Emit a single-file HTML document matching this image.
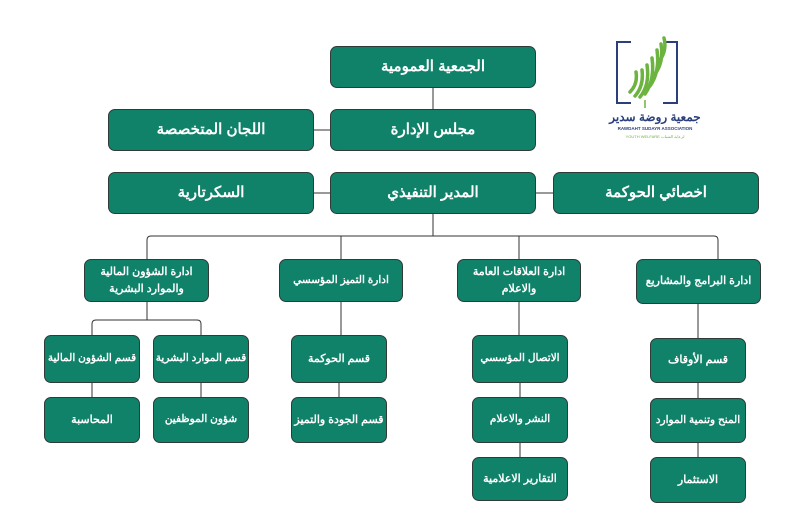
<!DOCTYPE html>
<html><head><meta charset="utf-8"><style>
body{margin:0;width:799px;height:527px;background:#fff;position:relative;overflow:hidden;font-family:"Liberation Sans","Noto Sans CJK SC",sans-serif}
.b{position:absolute;background:#10826a;border:1.5px solid #2f3b36;border-radius:7px;box-sizing:border-box;color:#fff;font-weight:bold;display:flex;align-items:center;justify-content:center;text-align:center;direction:rtl;line-height:1.5}
.l{font-size:15px}.m{font-size:11px}.s{font-size:10.5px}
svg{position:absolute;left:0;top:0}
</style></head><body>
<svg width="799" height="527" stroke="#333" stroke-width="1" fill="none">
<line x1="433" y1="88" x2="433" y2="109"/>
<line x1="314" y1="130" x2="330" y2="130"/>
<line x1="314" y1="193" x2="330" y2="193"/>
<line x1="536" y1="193" x2="553" y2="193"/>
<line x1="433" y1="214" x2="433" y2="236"/>
<path d="M147 259V240q0-4 4-4H714q4 0 4 4V259"/>
<line x1="341" y1="236" x2="341" y2="259"/>
<line x1="519" y1="236" x2="519" y2="259"/>
<line x1="147" y1="302" x2="147" y2="320"/>
<path d="M92 335V324q0-4 4-4H197q4 0 4 4V335"/>
<line x1="92" y1="383" x2="92" y2="397"/>
<line x1="201" y1="383" x2="201" y2="397"/>
<line x1="341" y1="302" x2="341" y2="335"/>
<line x1="339" y1="383" x2="339" y2="397"/>
<line x1="519" y1="302" x2="519" y2="335"/>
<line x1="520" y1="383" x2="520" y2="397"/>
<line x1="520" y1="443" x2="520" y2="457"/>
<line x1="698" y1="304" x2="698" y2="338"/>
<line x1="698" y1="383" x2="698" y2="398"/>
<line x1="698" y1="443" x2="698" y2="457"/>
<path d="M631 42H617V103H631M663 42H677V103H663" stroke="#2b3f7a" stroke-width="2"/>
<g stroke="#6cb33f" stroke-width="3.5" stroke-linecap="round">
<path d="M630 92q8-8 6-20"/><path d="M635 96q9-10 7-26"/><path d="M640 97q10-12 7-32"/><path d="M645 94q10-14 7-36"/><path d="M650 86q10-14 7-36"/><path d="M655 74q9-12 6-30"/><path d="M660 60q7-10 4-22"/>
</g>
<line x1="645" y1="100" x2="645" y2="108" stroke="#6cb33f" stroke-width="1.5"/>
</svg>
<div style="position:absolute;left:600px;top:110px;width:110px;text-align:center;font-size:12px;font-weight:bold;color:#2b3f7a;direction:rtl">جمعية روضة سدير</div>
<div style="position:absolute;left:600px;top:126px;width:110px;text-align:center;font-size:4.5px;font-weight:bold;color:#2b3f7a">RAWDAHT SUDAYR ASSOCIATION</div>
<div style="position:absolute;left:600px;top:134px;width:110px;text-align:center;font-size:4px;color:#6cb33f">YOUTH WELFARE لرعاية الشباب</div>

<div class="b l" style="left:330px;top:46px;width:206px;height:42px">الجمعية العمومية</div>
<div class="b l" style="left:330px;top:109px;width:206px;height:42px">مجلس الإدارة</div>
<div class="b l" style="left:108px;top:109px;width:206px;height:42px">اللجان المتخصصة</div>
<div class="b l" style="left:330px;top:172px;width:206px;height:42px">المدير التنفيذي</div>
<div class="b l" style="left:108px;top:172px;width:206px;height:42px">السكرتارية</div>
<div class="b l" style="left:553px;top:172px;width:206px;height:42px">اخصائي الحوكمة</div>

<div class="b m" style="left:84px;top:259px;width:125px;height:43px">ادارة الشؤون المالية<br>والموارد البشرية</div>
<div class="b s" style="left:279px;top:259px;width:124px;height:43px">ادارة التميز المؤسسي</div>
<div class="b m" style="left:457px;top:259px;width:124px;height:43px">ادارة العلاقات العامة<br>والاعلام</div>
<div class="b m" style="left:636px;top:259px;width:125px;height:45px">ادارة البرامج والمشاريع</div>

<div class="b s" style="left:44px;top:335px;width:96px;height:48px">قسم الشؤون المالية</div>
<div class="b s" style="left:153px;top:335px;width:96px;height:48px">قسم الموارد البشرية</div>
<div class="b m" style="left:44px;top:397px;width:96px;height:46px">المحاسبة</div>
<div class="b s" style="left:153px;top:397px;width:96px;height:46px">شؤون الموظفين</div>
<div class="b m" style="left:291px;top:335px;width:96px;height:48px">قسم الحوكمة</div>
<div class="b m" style="left:291px;top:397px;width:96px;height:46px">قسم الجودة والتميز</div>
<div class="b s" style="left:472px;top:335px;width:96px;height:48px">الاتصال المؤسسي</div>
<div class="b s" style="left:472px;top:397px;width:96px;height:46px">النشر والاعلام</div>
<div class="b m" style="left:472px;top:457px;width:96px;height:44px">التقارير الاعلامية</div>
<div class="b m" style="left:650px;top:338px;width:96px;height:45px">قسم الأوقاف</div>
<div class="b s" style="left:650px;top:398px;width:96px;height:45px">المنح وتنمية الموارد</div>
<div class="b m" style="left:650px;top:457px;width:96px;height:46px">الاستثمار</div>
</body></html>
